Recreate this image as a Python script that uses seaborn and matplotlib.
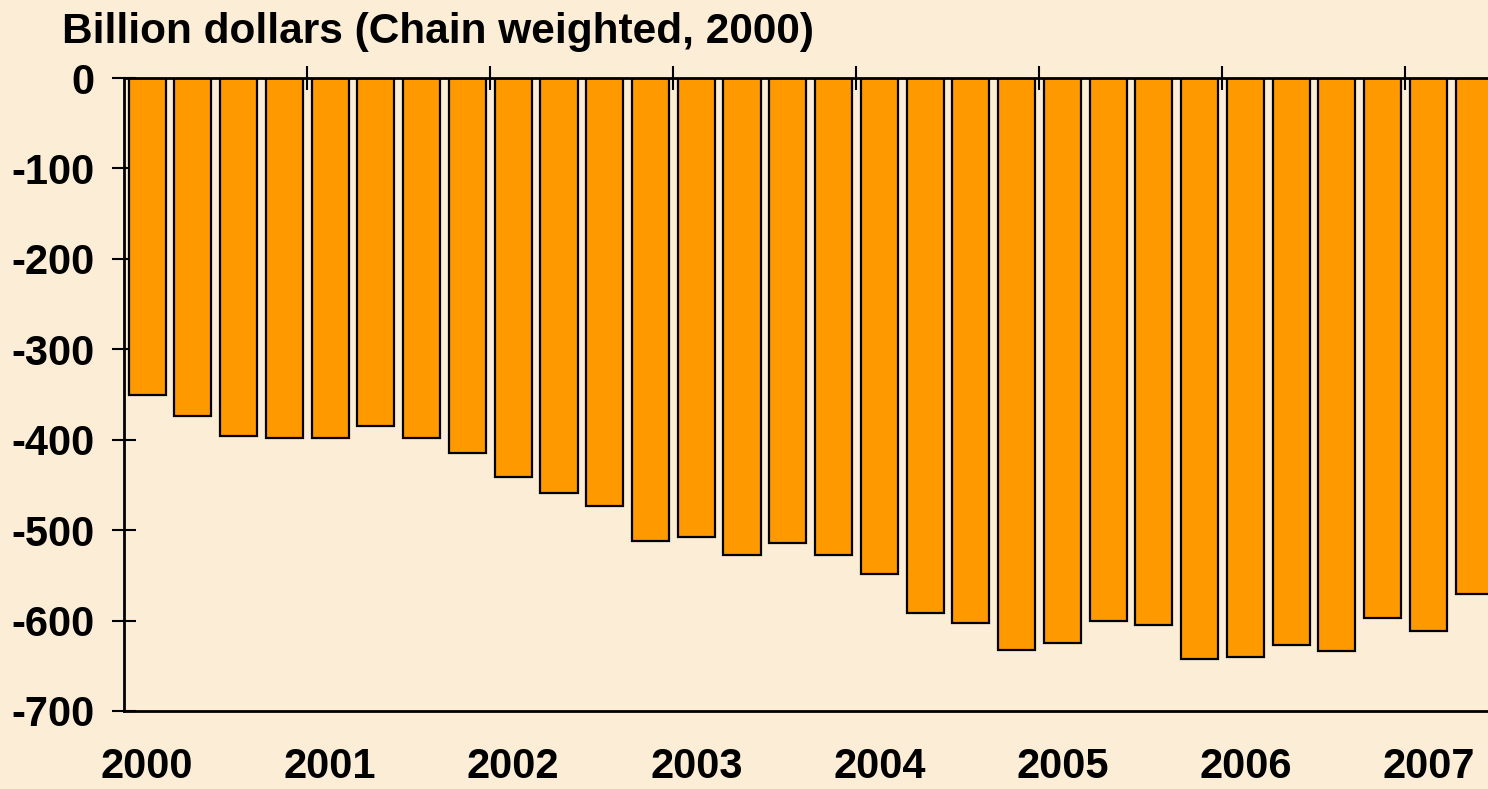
import numpy as np
import pandas as pd
import matplotlib
matplotlib.use("Agg")
import matplotlib.pyplot as plt
import seaborn as sns

# quarterly values, 2000Q1 - 2007Q2
years = ["2000", "2001", "2002", "2003", "2004", "2005", "2006", "2007"]
quarters = [f"{y}Q{q}" for y in years for q in range(1, 5)][:30]
values = [-350, -374, -396, -398, -398, -385, -398, -415,
          -441, -459, -473, -512, -508, -528, -514, -528,
          -549, -592, -603, -633, -625, -601, -605, -642,
          -640, -627, -634, -597, -612, -571]

bg = "#FBEDD6"
bar_color = "#FF9900"

sns.set_style("white")
plt.rcParams["font.family"] = ["Liberation Sans", "DejaVu Sans"]
plt.rcParams["font.weight"] = "bold"
plt.rcParams["text.color"] = "black"
plt.rcParams["xtick.color"] = "black"
plt.rcParams["ytick.color"] = "black"

df = pd.DataFrame({"quarter": quarters, "value": values})

fig = plt.figure(figsize=(14.88, 7.89), dpi=100, facecolor=bg)
ax = fig.add_axes([124.3 / 1488, 1 - 711 / 789, (1497 - 124.3) / 1488, (711 - 78) / 789])
ax.set_facecolor(bg)

sns.barplot(data=df, x="quarter", y="value", order=quarters, color=bar_color,
            saturation=1, width=0.81, edgecolor="black", linewidth=1.6, ax=ax)

ax.set_xlim(-0.5, 29.5)
ax.set_ylim(-700, 0)
ax.set_xlabel("")
ax.set_ylabel("")

# spines
for s in ["left", "bottom", "top"]:
    ax.spines[s].set_visible(True)
    ax.spines[s].set_color("black")
    ax.spines[s].set_linewidth(2)
ax.spines["right"].set_visible(False)

# y ticks
ax.set_yticks(np.arange(-700, 1, 100))
ax.set_yticklabels([str(v) for v in range(-700, 1, 100)], fontsize=30, fontweight="bold")
ax.tick_params(axis="y", direction="inout", length=17, width=1.5, pad=13, left=True)

# year labels at first quarter, boundary ticks on zero line
ax.set_xticks(np.arange(0, 30, 4))
ax.set_xticklabels(years, fontsize=30, fontweight="bold")
ax.tick_params(axis="x", which="major", length=0, pad=26)
ax.set_xticks(np.arange(3.5, 29, 4), minor=True)
ax.tick_params(axis="x", which="minor", top=True, bottom=False, direction="inout",
               length=17, width=1.5)

fig.text(62 / 1488, 1 - 43 / 789, "Billion dollars (Chain weighted, 2000)",
         fontsize=30.5, fontweight="bold", ha="left", va="baseline")

fig.savefig("out.png", dpi=100, facecolor=bg)
